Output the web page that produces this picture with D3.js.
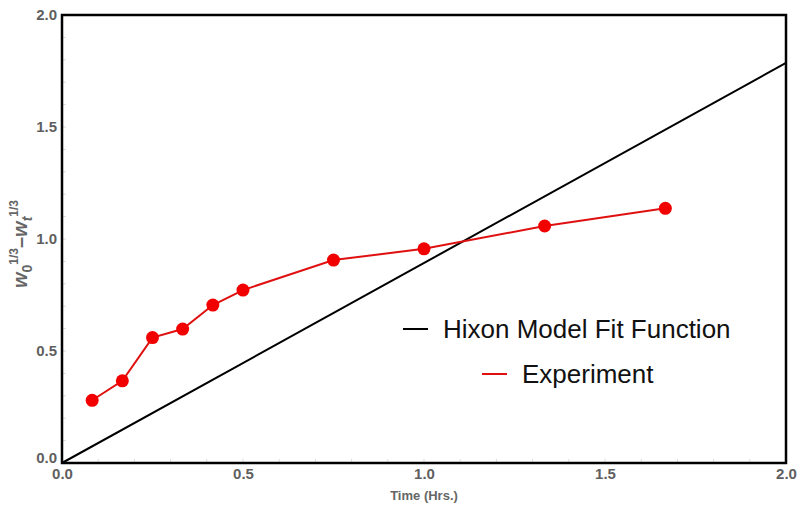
<!DOCTYPE html>
<html>
<head>
<meta charset="utf-8">
<script src="https://cdn.jsdelivr.net/npm/d3@7"></script>
<style>
  body { margin: 0; background: #fff; }
  text { font-family: "Liberation Sans", Arial, sans-serif; }
</style>
</head>
<body>
<svg id="chart" width="800" height="511"></svg>
<script>
// experiment data (time in hours vs w0^(1/3) - wt^(1/3))
const expTime = [0.0833, 0.1667, 0.25, 0.3333, 0.4167, 0.5, 0.75, 1.0, 1.3333, 1.6667];
const expValue = [0.28, 0.367, 0.56, 0.598, 0.705, 0.772, 0.906, 0.956, 1.058, 1.137];
// Hixon model fit: straight line through origin
const fitSlope = 0.893;
const fitTime = [0, 2];
const xTicks = [0, 0.5, 1.0, 1.5, 2.0];
const yTicks = [0, 0.5, 1.0, 1.5, 2.0];
const legendLabels = ['Hixon Model Fit Function', 'Experiment'];

const margin = { top: 15, right: 14, bottom: 48, left: 62 };
const width = 800 - margin.left - margin.right;
const height = 511 - margin.top - margin.bottom;

const svg = d3.select('#chart');
const g = svg.append('g').attr('transform', `translate(${margin.left},${margin.top})`);

const x = d3.scaleLinear().domain([0, 2]).range([0, width]);
const y = d3.scaleLinear().domain([0, 2]).range([height, 0]);

// axes (labels only, ticks drawn faint inside frame)
const xAxis = g.append('g')
  .attr('transform', `translate(0,${height})`)
  .call(d3.axisBottom(x).tickValues(xTicks).tickFormat(d3.format('.1f')).tickSize(0).tickPadding(5));
const yAxis = g.append('g')
  .call(d3.axisLeft(y).tickValues(yTicks).tickFormat(d3.format('.1f')).tickSize(0).tickPadding(5));
[xAxis, yAxis].forEach(a => {
  a.select('.domain').remove();
  a.selectAll('text')
    .style('font-size', '15px')
    .style('font-weight', 'bold')
    .style('fill', '#5f5f5f');
});
// keep the two corner "0.0" labels apart
yAxis.selectAll('.tick text').filter(d => d === 0).attr('dy', '-0.05em');

// faint minor ticks on frame
const minor = d3.range(0, 2.0001, 0.1);
g.append('g').selectAll('line.xt').data(minor).enter().append('line')
  .attr('x1', d => x(d)).attr('x2', d => x(d))
  .attr('y1', height).attr('y2', height - 4)
  .attr('stroke', '#ddd');
g.append('g').selectAll('line.yt').data(minor).enter().append('line')
  .attr('x1', 0).attr('x2', 4)
  .attr('y1', d => y(d)).attr('y2', d => y(d))
  .attr('stroke', '#ddd');

// fit line
g.append('path')
  .datum(fitTime)
  .attr('fill', 'none')
  .attr('stroke', '#000')
  .attr('stroke-width', 2)
  .attr('d', d3.line().x(d => x(d)).y(d => y(d * fitSlope)));

// experiment
const expData = expTime.map((t, i) => ({ t, v: expValue[i] }));
g.append('path')
  .datum(expData)
  .attr('fill', 'none')
  .attr('stroke', '#e01010')
  .attr('stroke-width', 2)
  .attr('d', d3.line().x(d => x(d.t)).y(d => y(d.v)));
g.selectAll('.pt')
  .data(expData)
  .enter()
  .append('circle')
  .attr('class', 'pt')
  .attr('cx', d => x(d.t))
  .attr('cy', d => y(d.v))
  .attr('r', 6.5)
  .attr('fill', '#f20000');

// frame
g.append('rect')
  .attr('width', width)
  .attr('height', height)
  .attr('fill', 'none')
  .attr('stroke', '#000')
  .attr('stroke-width', 2.5);

// axis titles
svg.append('text')
  .attr('x', margin.left + width / 2)
  .attr('y', 500)
  .attr('text-anchor', 'middle')
  .style('font-size', '13px')
  .style('font-weight', 'bold')
  .style('fill', '#666')
  .text('Time (Hrs.)');

const yl = svg.append('text')
  .attr('transform', `translate(27,${margin.top + height / 2 + 5}) rotate(-90)`)
  .attr('text-anchor', 'middle')
  .style('font-size', '20px')
  .style('font-weight', 'bold')
  .style('fill', '#666');
yl.append('tspan').style('font-style', 'italic').text('w');
yl.append('tspan').attr('dy', 5).style('font-size', '14px').text('0');
yl.append('tspan').attr('dy', -14).style('font-size', '12px').text('1/3');
yl.append('tspan').attr('dy', 9).text('\u2013');
yl.append('tspan').style('font-style', 'italic').text('w');
yl.append('tspan').attr('dy', 5).style('font-size', '14px').style('font-style', 'italic').text('t');
yl.append('tspan').attr('dy', -14).style('font-size', '12px').text('1/3');

// legend
const legendColors = ['#000', '#e01010'];
const legendPos = [{ x: 403, y: 329 }, { x: 482, y: 374 }];
const legend = svg.selectAll('.legend')
  .data(legendLabels)
  .enter()
  .append('g')
  .attr('class', 'legend')
  .attr('transform', (d, i) => `translate(${legendPos[i].x},${legendPos[i].y})`);
legend.append('line')
  .attr('x1', 0).attr('x2', 25)
  .attr('stroke', (d, i) => legendColors[i])
  .attr('stroke-width', 2);
legend.append('text')
  .attr('x', 40)
  .attr('dy', '0.35em')
  .style('font-size', '26px')
  .style('fill', '#111')
  .text(d => d);
</script>
</body>
</html>
